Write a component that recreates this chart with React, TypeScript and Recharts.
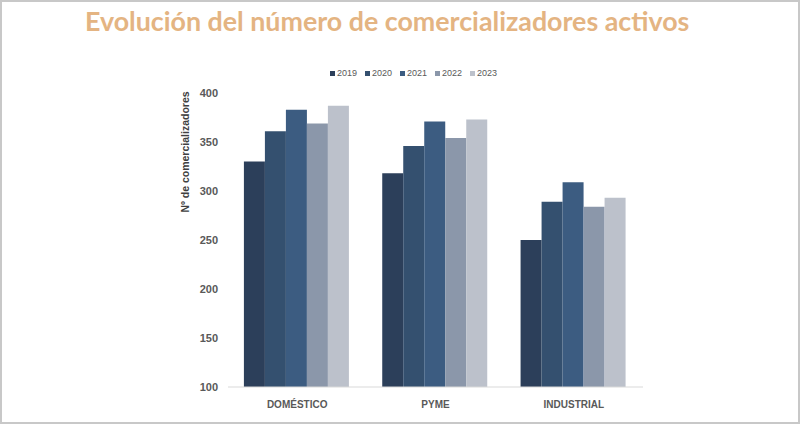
import { BarChart, Bar, XAxis, YAxis } from "recharts";

const categories = ["DOMÉSTICO", "PYME", "INDUSTRIAL"];
const years = ["2019", "2020", "2021", "2022", "2023"];
const values2019 = [330, 318, 250];
const values2020 = [361, 346, 289];
const values2021 = [383, 371, 309];
const values2022 = [369, 354, 284];
const values2023 = [387, 373, 293];
const yTicks = [100, 150, 200, 250, 300, 350, 400];

const colors = ["#2c3f5a", "#34506f", "#3c5c81", "#8b97aa", "#bcc1cb"];
const series = [values2019, values2020, values2021, values2022, values2023];

const data = categories.map((name, i) => {
  const row: any = { name };
  years.forEach((y, j) => {
    row[y] = series[j][i];
  });
  return row;
});

function LegendRow() {
  return (
    <div style={{ position: "absolute", left: 330, top: 67, display: "flex", fontFamily: "'Liberation Sans', Arial", fontSize: 9, lineHeight: "12px", color: "#595959" }}>
      {years.map((y, i) => (
        <span key={y} style={{ display: "inline-flex", alignItems: "center", width: 35 }}>
          <span style={{ width: 5, height: 5, background: colors[i], marginRight: 2, display: "inline-block" }} />
          {y}
        </span>
      ))}
    </div>
  );
}

export default function App() {
  return (
    <div style={{ position: "absolute", left: 0, top: 0, width: 800, height: 424, background: "#fff" }}>
      <div style={{ position: "absolute", left: 0, top: 0, width: 800, height: 424, boxSizing: "border-box", border: "2px solid #c8c8c8", pointerEvents: "none", zIndex: 2 }} />
      <div style={{ position: "absolute", left: 85, top: 5, fontFamily: "Lato", fontWeight: 700, fontSize: 26.8, color: "#e4b482", whiteSpace: "nowrap" }}>
        Evolución del número de comercializadores activos
      </div>
      <LegendRow />
      <div style={{ position: "absolute", left: 185, top: 152, transform: "translate(-50%, -50%) rotate(-90deg)", fontFamily: "'Liberation Sans', Arial", fontWeight: 700, fontSize: 10.5, color: "#404040", whiteSpace: "nowrap" }}>
        Nº de comercializadores
      </div>
      <BarChart width={800} height={424} data={data} margin={{ top: 93, right: 157, left: 168, bottom: 7 }} barCategoryGap="11.5%" barGap={0}>
        <XAxis dataKey="name" axisLine={{ stroke: "#d9d9d9" }} tickLine={false} tick={{ fontFamily: "'Liberation Sans', Arial", fontWeight: 700, fontSize: 10, fill: "#595959" }} height={30} tickMargin={8} />
        <YAxis width={60} domain={[100, 400]} ticks={yTicks} axisLine={false} tickLine={false} tick={{ fontFamily: "'Liberation Sans', Arial", fontWeight: 700, fontSize: 11, fill: "#595959" }} tickMargin={4} />
        {years.map((y, i) => (
          <Bar key={y} dataKey={y} fill={colors[i]} isAnimationActive={false} />
        ))}
      </BarChart>
    </div>
  );
}
